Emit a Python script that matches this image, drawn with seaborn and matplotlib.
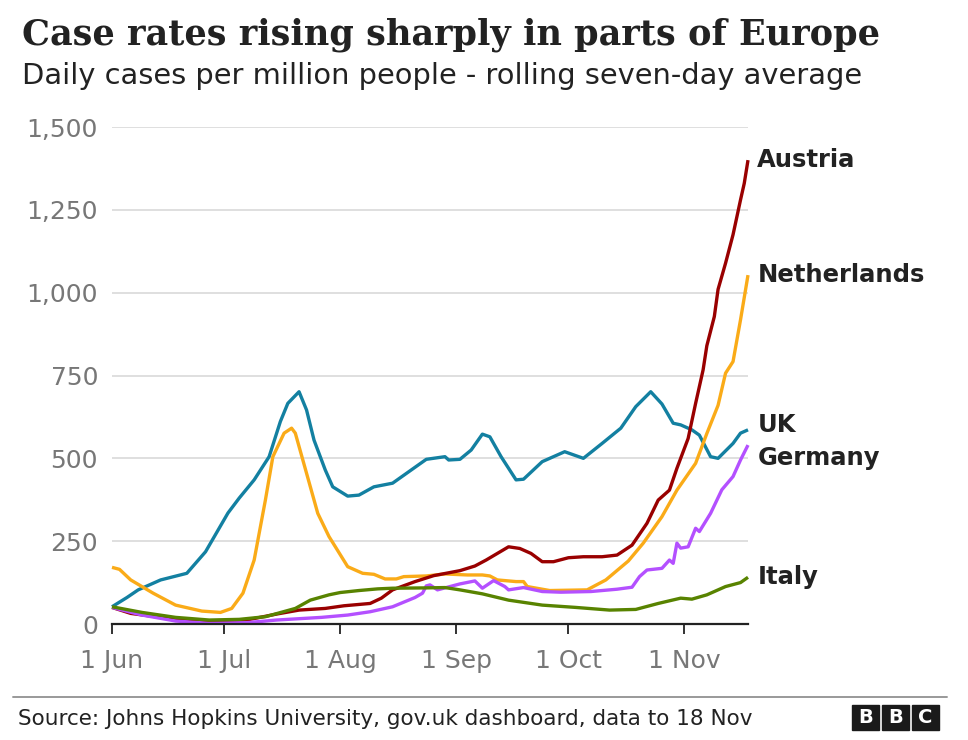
import numpy as np
import pandas as pd
import matplotlib
matplotlib.use("Agg")
import matplotlib.pyplot as plt
from matplotlib.patches import Rectangle
import seaborn as sns

# ---------------- data (days after 1 Jun 2020, daily cases per million) ----
start = pd.Timestamp("2020-06-01")
end = pd.Timestamp("2020-11-18")

uk_days = [0, 4, 7, 13, 20, 25, 31, 34, 38, 42, 45, 47, 50, 52, 54, 57, 59, 63, 66, 70, 75, 80, 84,
           89, 90, 93, 96, 99, 101, 104, 108, 110, 115, 121, 126, 131, 136, 140, 144, 147, 150, 152,
           155, 157, 160, 162, 166, 168, 170]
uk_vals = [52, 80, 103, 133, 153, 218, 335, 380, 435, 505, 611, 666, 701, 646, 555, 465, 414, 386, 389,
           414, 425, 465, 497, 505, 495, 497, 525, 573, 565, 505, 435, 437, 490, 520, 500, 545, 591,
           656, 701, 664, 606, 601, 586, 570, 505, 500, 545, 576, 586]

nl_days = [0, 2, 5, 11, 17, 24, 29, 32, 35, 38, 41, 43, 46, 48, 49, 52, 55, 58, 63, 67, 70, 73, 76,
           78, 84, 89, 95, 99, 101, 103, 108, 110, 111, 117, 127, 132, 138, 142, 147, 151, 156, 159,
           162, 164, 166, 168, 170]
nl_vals = [171, 165, 133, 93, 57, 39, 35, 47, 93, 193, 374, 505, 576, 591, 576, 455, 334, 264, 173,
           153, 150, 136, 136, 143, 145, 151, 148, 148, 145, 133, 128, 128, 113, 101, 103, 133, 190,
           244, 324, 404, 485, 575, 660, 757, 792, 918, 1053]

at_days = [0, 5, 13, 22, 29, 36, 44, 50, 57, 62, 69, 72, 75, 81, 86, 93, 97, 100, 103, 106, 109, 112,
           115, 118, 122, 126, 131, 135, 139, 143, 146, 149, 151, 154, 156, 158, 159, 161, 162, 164,
           166, 168, 169, 170]
at_vals = [50, 32, 20, 9, 5, 12, 30, 42, 47, 55, 62, 78, 103, 128, 146, 161, 175, 193, 213, 233, 228,
           213, 188, 188, 200, 203, 203, 208, 238, 304, 374, 404, 470, 560, 666, 767, 840, 928, 1010,
           1089, 1175, 1280, 1330, 1400]

de_days = [0, 8, 17, 26, 36, 44, 56, 63, 69, 75, 81, 83, 84, 85, 87, 93, 97, 99, 102, 105, 106, 110,
           115, 120, 128, 135, 139, 141, 143, 147, 149, 150, 151, 152, 154, 156, 157, 160, 163, 166,
           168, 170]
de_vals = [50, 27, 9, 2, 4, 12, 20, 27, 37, 52, 80, 93, 115, 118, 103, 121, 130, 108, 131, 113, 103,
           110, 98, 96, 98, 105, 111, 143, 163, 168, 193, 183, 244, 229, 233, 289, 279, 334, 405, 445,
           495, 540]

it_days = [0, 8, 17, 26, 34, 41, 49, 53, 58, 61, 66, 71, 75, 84, 89, 93, 99, 106, 115, 124, 133, 140,
           146, 152, 155, 159, 164, 168, 170]
it_vals = [52, 35, 20, 12, 14, 22, 47, 72, 88, 95, 101, 106, 108, 109, 110, 103, 91, 72, 57, 50, 42,
           44, 62, 78, 75, 88, 113, 125, 141]

countries = ["UK", "Netherlands", "Austria", "Germany", "Italy"]
colors = ["#1380A1", "#FAAB18", "#990000", "#B450FF", "#588300"]
y_ticks = [0, 250, 500, 750, 1000, 1250, 1500]
y_tick_labels = ["0", "250", "500", "750", "1,000", "1,250", "1,500"]
x_tick_dates = ["2020-06-01", "2020-07-01", "2020-08-01", "2020-09-01", "2020-10-01", "2020-11-01"]
x_tick_labels = ["1 Jun", "1 Jul", "1 Aug", "1 Sep", "1 Oct", "1 Nov"]
label_y = {"Austria": 1400, "Netherlands": 1053, "UK": 600, "Germany": 500, "Italy": 141}

series = {"UK": (uk_days, uk_vals), "Netherlands": (nl_days, nl_vals), "Austria": (at_days, at_vals),
          "Germany": (de_days, de_vals), "Italy": (it_days, it_vals)}
rows = []
for c in countries:
    d, v = series[c]
    for dd, vv in zip(d, v):
        rows.append({"date": start + pd.Timedelta(days=dd), "value": vv, "country": c})
df = pd.DataFrame(rows)

# ---------------- plot ----------------
sns.set_style("white")
plt.rcParams["font.family"] = ["DejaVu Sans"]

fig = plt.figure(figsize=(9.68, 7.4), dpi=100)
ax = fig.add_axes([112 / 968, 1 - 624 / 740, (748 - 112) / 968, (624 - 127) / 740])

sns.lineplot(data=df, x="date", y="value", hue="country", hue_order=countries,
             palette=dict(zip(countries, colors)), linewidth=2.4, legend=False, ax=ax,
             estimator=None)
for ln in ax.lines:
    ln.set_clip_on(False)
    ln.set_solid_capstyle("butt")
    ln.set_solid_joinstyle("round")

ax.set_xlim(start, end)
ax.set_ylim(0, 1500)
ax.set_yticks(y_ticks)
ax.set_yticklabels(y_tick_labels)
ax.set_xticks(pd.to_datetime(x_tick_dates))
ax.set_xticklabels(x_tick_labels)
ax.set_xlabel("")
ax.set_ylabel("")
for s in ["top", "right", "left"]:
    ax.spines[s].set_visible(False)
ax.spines["bottom"].set_color("#222222")
ax.spines["bottom"].set_linewidth(1.6)
ax.spines["bottom"].set_zorder(5)
ax.grid(axis="y", color="#dcdcdc", linewidth=1.3)
ax.set_axisbelow(True)
ax.tick_params(axis="y", length=0, pad=10, labelsize=18, labelcolor="#777777")
ax.tick_params(axis="x", length=7, width=1.3, color="#222222", pad=11, labelsize=18,
               labelcolor="#777777", direction="out", bottom=True)

# direct labels
for c in countries:
    ax.text(end + pd.Timedelta(days=2.5), label_y[c], c, fontsize=17.5, fontweight="bold",
            color="#222222", va="center", ha="left")

# title / subtitle
fig.text(22 / 968, 1 - 45 / 740, "Case rates rising sharply in parts of Europe",
         fontsize=25.3, family="DejaVu Serif", fontweight="bold", color="#222222",
         va="baseline", ha="left")
fig.text(22 / 968, 1 - 84 / 740, "Daily cases per million people - rolling seven-day average",
         fontsize=20.8, color="#222222", va="baseline", ha="left")

# footer
fig.add_artist(plt.Line2D([13 / 968, 947 / 968], [1 - 697 / 740, 1 - 697 / 740],
                          color="#999999", linewidth=1.4))
fig.text(18 / 968, 1 - 725 / 740, "Source: Johns Hopkins University, gov.uk dashboard, data to 18 Nov",
         fontsize=15.5, color="#222222", va="baseline", ha="left")
for i, letter in enumerate("BBC"):
    x0 = 852 + i * 30
    fig.add_artist(Rectangle((x0 / 968, 1 - 729.5 / 740), 27 / 968, 24.5 / 740,
                             transform=fig.transFigure, color="#1a1a1a"))
    fig.text((x0 + 13.5) / 968, 1 - 717.5 / 740, letter, fontsize=14, fontweight="bold",
             color="white", ha="center", va="center")

fig.savefig("out.png", dpi=100, facecolor="white")
